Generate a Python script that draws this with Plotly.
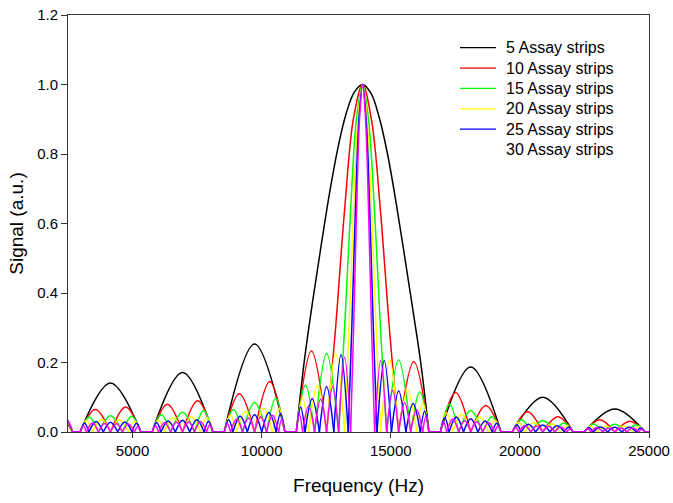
import plotly.graph_objects as go

# ---------------- data ----------------
labels = ["5 Assay strips", "10 Assay strips", "15 Assay strips",
          "20 Assay strips", "25 Assay strips", "30 Assay strips"]
colors = ["#000000", "#FF0000", "#00FF00", "#FFFF00", "#0000FF", "#FF00FF"]

# zero crossings (Hz) and the lobe peak heights between consecutive zeros
# (0 = flat stretch on the baseline, 1.0 = main lobe, drawn from main_* arrays)
edges_5 = [180, 2680, 2970, 5320, 5760, 8110, 8550, 10900, 11340, 16480, 16920,
           19270, 19710, 22060, 22500, 24850, 25290]
peaks_5 = [0.11, 0, 0.141, 0, 0.171, 0, 0.253, 0, 1.0, 0, 0.187, 0, 0.100, 0, 0.066, 0]

edges_10 = [1285, 2680, 2970, 4145, 5320, 5760, 6935, 8110, 8550, 9725, 10900, 11340,
            12515, 15305, 16480, 16920, 18095, 19270, 19710, 20885, 22060, 22500,
            23675, 24850, 25290]
peaks_10 = [0.07, 0, 0.065, 0.072, 0, 0.080, 0.090, 0, 0.110, 0.145, 0, 0.233, 1.0,
            0.202, 0, 0.114, 0.076, 0, 0.058, 0.044, 0, 0.035, 0.031, 0]

edges_15 = [1750, 2680, 2970, 3680, 4610, 5320, 5760, 6470, 7400, 8110, 8550, 9260,
            10190, 10900, 11340, 12050, 12980, 14840, 15770, 16480, 16920, 17630,
            18560, 19270, 19710, 20420, 21350, 22060, 22500, 23210, 24140, 24850, 25290]
peaks_15 = [0.055, 0, 0.043, 0.047, 0.045, 0, 0.050, 0.057, 0.062, 0, 0.065, 0.085,
            0.097, 0, 0.135, 0.226, 1.0, 0.207, 0.116, 0, 0.080, 0.062, 0.044, 0,
            0.035, 0.033, 0.026, 0, 0.023, 0.022, 0.021, 0]

edges_20 = [1982, 2680, 2970, 3447, 4145, 4842, 5320, 5760, 6237, 6935, 7632, 8110,
            8550, 9027, 9725, 10422, 10900, 11340, 11817, 12515, 13212, 14607, 15305,
            16002, 16480, 16920, 17397, 18095, 18792, 19270, 19710, 20187, 20885,
            21582, 22060, 22500, 22977, 23675, 24372, 24850, 25290]
peaks_20 = [0.045, 0, 0.033, 0.036, 0.035, 0.031, 0, 0.034, 0.041, 0.044, 0.042, 0,
            0.048, 0.059, 0.067, 0.069, 0, 0.097, 0.135, 0.226, 1.0, 0.207, 0.120,
            0.083, 0, 0.055, 0.051, 0.043, 0.033, 0, 0.027, 0.027, 0.024, 0.019, 0,
            0.017, 0.017, 0.017, 0.0155, 0]

edges_25 = [2122, 2680, 2970, 3308, 3866, 4424, 4982, 5320, 5760, 6098, 6656, 7214,
            7772, 8110, 8550, 8888, 9446, 10004, 10562, 10900, 11340, 11678, 12236,
            12794, 13352, 14468, 15026, 15584, 16142, 16480, 16920, 17258, 17816,
            18374, 18932, 19270, 19710, 20048, 20606, 21164, 21722, 22060, 22500,
            22838, 23396, 23954, 24512, 24850, 25290]
peaks_25 = [0.04, 0, 0.026, 0.030, 0.028, 0.0285, 0.025, 0, 0.027, 0.032, 0.034,
            0.0355, 0.031, 0, 0.035, 0.045, 0.050, 0.056, 0.053, 0, 0.072, 0.096,
            0.131, 0.222, 1.0, 0.205, 0.119, 0.082, 0.060, 0, 0.042, 0.043, 0.038,
            0.032, 0.025, 0, 0.021, 0.022, 0.020, 0.018, 0.0145, 0, 0.013, 0.0146,
            0.0134, 0.0135, 0.0115, 0]

edges_30 = [2215, 2680, 2970, 3215, 3680, 4145, 4610, 5075, 5320, 5760, 6005, 6470,
            6935, 7400, 7865, 8110, 8550, 8795, 9260, 9725, 10190, 10655, 10900, 11340,
            11585, 12050, 12515, 12980, 13445, 14375, 14840, 15305, 15770, 16235,
            16480, 16920, 17165, 17630, 18095, 18560, 19025, 19270, 19710, 19955,
            20420, 20885, 21350, 21815, 22060, 22500, 22745, 23210, 23675, 24140,
            24605, 24850, 25290]
peaks_30 = [0.035, 0, 0.018, 0.0256, 0.0244, 0.0236, 0.0233, 0.016, 0, 0.018, 0.0263,
            0.0277, 0.029, 0.030, 0.021, 0, 0.024, 0.0367, 0.040, 0.0438, 0.048, 0.037,
            0, 0.052, 0.075, 0.094, 0.130, 0.215, 1.0, 0.205, 0.120, 0.084, 0.064,
            0.044, 0, 0.029, 0.0377, 0.0333, 0.0296, 0.0266, 0.017, 0, 0.014, 0.019,
            0.0174, 0.016, 0.0147, 0.0097, 0, 0.010, 0.013, 0.0116, 0.0112, 0.0113,
            0.008, 0]

# main-lobe profiles (Hz, signal)
main_5_f = [11340, 11661, 11982, 12304, 12625, 12946, 13267, 13589, 13910,
            14231, 14553, 14874, 15195, 15516, 15838, 16159, 16480]
main_5_s = [0, 0.21, 0.38, 0.537, 0.686, 0.815, 0.915, 0.978, 1.0,
            0.975, 0.905, 0.80, 0.665, 0.515, 0.36, 0.20, 0]
main_10_f = [12515, 12864, 13212, 13561, 13910, 14259, 14607, 14956, 15305]
main_10_s = [0, 0.30, 0.64, 0.905, 1.0, 0.895, 0.63, 0.29, 0]
main_15_f = [12980, 13212, 13445, 13677, 13910, 14142, 14375, 14607, 14840]
main_15_s = [0, 0.30, 0.64, 0.905, 1.0, 0.895, 0.63, 0.29, 0]
main_20_f = [13212, 13386, 13561, 13736, 13910, 14084, 14259, 14433, 14607]
main_20_s = [0, 0.30, 0.64, 0.905, 1.0, 0.895, 0.63, 0.29, 0]
main_25_f = [13352, 13491, 13631, 13770, 13910, 14050, 14189, 14328, 14468]
main_25_s = [0, 0.30, 0.64, 0.905, 1.0, 0.895, 0.63, 0.29, 0]
main_30_f = [13445, 13561, 13677, 13794, 13910, 14026, 14142, 14259, 14375]
main_30_s = [0, 0.30, 0.64, 0.905, 1.0, 0.895, 0.63, 0.29, 0]

x_ticks = [5000, 10000, 15000, 20000, 25000]
x_tick_text = ["5000", "10000", "15000", "20000", "25000"]
y_ticks = [0.0, 0.2, 0.4, 0.6, 0.8, 1.0, 1.2]

series = [
    (edges_5, peaks_5, main_5_f, main_5_s),
    (edges_10, peaks_10, main_10_f, main_10_s),
    (edges_15, peaks_15, main_15_f, main_15_s),
    (edges_20, peaks_20, main_20_f, main_20_s),
    (edges_25, peaks_25, main_25_f, main_25_s),
    (edges_30, peaks_30, main_30_f, main_30_s),
]


def lobes_to_xy(edges, peaks, main_f, main_s):
    xs, ys = [], []
    for a, b, h in zip(edges[:-1], edges[1:], peaks):
        if h == 0:
            xs += [a, b, None]
            ys += [0, 0, None]
        elif h >= 1.0:
            xs += list(main_f) + [None]
            ys += list(main_s) + [None]
        else:
            xs += [a, (a + b) / 2, b, None]
            ys += [0, h, 0, None]
    return xs, ys


FONT = "Arial, 'Liberation Sans', sans-serif"
fig = go.Figure()
for (e, p, mf, ms), name, col in zip(series, labels, colors):
    xs, ys = lobes_to_xy(e, p, mf, ms)
    fig.add_trace(go.Scatter(x=xs, y=ys, mode="lines", name=name,
                             line=dict(color=col, width=1.5, shape="spline", smoothing=1),
                             connectgaps=False, showlegend=False, hoverinfo="skip"))

# ---------------- layout ----------------
L, R, T, B = 68, 24, 15, 71
W, H = 673, 503
pw, ph = W - L - R, H - T - B

def px_x(px):
    return (px - L) / pw

def px_y(py):
    return (H - B - py) / ph

fig.update_layout(
    template="none",
    width=W, height=H,
    margin=dict(l=L, r=R, t=T, b=B, autoexpand=False),
    paper_bgcolor="white", plot_bgcolor="white",
    font=dict(family=FONT, size=15, color="black"),
    showlegend=False,
    xaxis=dict(range=[2500, 25000], tickvals=x_ticks, ticktext=x_tick_text,
               ticks="outside", ticklen=5, tickwidth=1,
               tickcolor="#333", showline=True, linecolor="#333", linewidth=1,
               mirror=True, showgrid=False, zeroline=False, automargin=False,
               tickfont=dict(size=15),
               title=dict(text="Frequency (Hz)", font=dict(size=19), standoff=20)),
    yaxis=dict(range=[0, 1.2], tickvals=y_ticks, tickformat=".1f", ticks="outside",
               ticklen=6, tickwidth=1, tickcolor="#333", showline=True, linecolor="#333",
               linewidth=1, mirror=True, showgrid=False, zeroline=False, automargin=False,
               tickfont=dict(size=15),
               title=dict(text="Signal (a.u.)", font=dict(size=19), standoff=8)),
)

# legend drawn as line samples + text
row_y = [47.7, 68.1, 88.4, 108.8, 129.2, 149.5]
for i, (name, col) in enumerate(zip(labels, colors)):
    yy = px_y(row_y[i])
    if i < 5:
        fig.add_shape(type="line", xref="paper", yref="paper",
                      x0=px_x(460), x1=px_x(496), y0=yy, y1=yy,
                      line=dict(color=col, width=1.3))
    fig.add_annotation(xref="paper", yref="paper", x=px_x(504), y=yy,
                       xanchor="left", yanchor="middle", text=name, showarrow=False,
                       font=dict(size=16, family=FONT, color="black"))

fig.write_html("out.html")
